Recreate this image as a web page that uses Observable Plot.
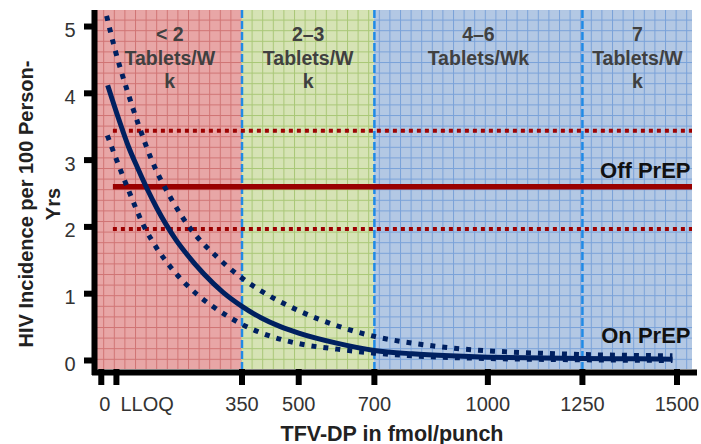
<!DOCTYPE html>
<html><head><meta charset="utf-8">
<script src="https://cdn.jsdelivr.net/npm/d3@7"></script>
<script src="https://cdn.jsdelivr.net/npm/@observablehq/plot@0.6"></script>
<style>body{margin:0;background:#fff} #chart svg{display:block}</style>
</head><body>
<svg width="0" height="0" style="position:absolute"><defs id="pats"></defs></svg>
<div id="chart"></div>
<script>
// ---- data ----
const xDomain = [-32, 1541];
const yDomain = [-0.135, 5.24];
const zoneIds = ["zr", "zg", "zb"];
const zoneStarts = [-32, 350, 700];
const zoneEnds = [350, 700, 1541];
const zoneFill = ["#e8a6a6", "#d6e3b5", "#b3c8e4"];
const zoneGrid = ["#d07474", "#a9c777", "#7aa2d9"];
const dividers = [350, 700, 1250];
const labelStarts = [-32, 350, 700, 1250];
const labelEnds = [350, 700, 1250, 1541];
const labelTexts = ["< 2\nTablets/W\nk", "2–3\nTablets/W\nk", "4–6\nTablets/Wk", "7\nTablets/W\nk"];
const xTicks = [-22, 18, 350, 500, 700, 1000, 1250, 1500];
const xTickLabels = ["0", "LLOQ", "350", "500", "700", "1000", "1250", "1500"];
const yTicks = [0, 1, 2, 3, 4, 5];
const offPrepEst = 2.6, offPrepLo = 1.97, offPrepHi = 3.44, offPrepFrom = 10;
const doseEst = [-5, 25, 50, 75, 100, 125, 150, 175, 200, 250, 300, 350, 400, 450, 500, 600, 700, 800, 900, 1000, 1100, 1250, 1400, 1488];
const incEst  = [4.12, 3.60, 3.20, 2.87, 2.56, 2.28, 2.03, 1.81, 1.62, 1.29, 1.02, 0.81, 0.64, 0.51, 0.41, 0.26, 0.15, 0.10, 0.07, 0.05, 0.04, 0.03, 0.025, 0.02];
const doseHi = [-8, 15, 46, 77, 112, 165, 213, 284, 346, 425, 502, 601, 700, 813, 936, 1015, 1245, 1488];
const incHi  = [5.16, 4.64, 4.05, 3.52, 2.99, 2.40, 1.98, 1.55, 1.25, 0.96, 0.74, 0.52, 0.36, 0.25, 0.17, 0.14, 0.09, 0.07];
const doseLo = [-6, 20, 50, 90, 125, 161, 231, 275, 328, 350, 407, 502, 601, 700, 800, 900, 1000, 1250, 1488];
const incLo  = [3.37, 2.98, 2.55, 2.02, 1.68, 1.40, 0.99, 0.80, 0.61, 0.54, 0.40, 0.25, 0.17, 0.11, 0.07, 0.045, 0.03, 0.01, 0.0];

// ---- graph-paper patterns ----
const G = 10.6;
const defs = document.getElementById("pats");
zoneIds.forEach((id, i) => {
  defs.insertAdjacentHTML("beforeend",
    `<pattern id="${id}" patternUnits="userSpaceOnUse" x="241" y="9" width="${G}" height="${G}">` +
    `<rect width="${G}" height="${G}" fill="${zoneFill[i]}"/>` +
    `<rect width="1" height="${G}" fill="${zoneGrid[i]}"/>` +
    `<rect width="${G}" height="1" fill="${zoneGrid[i]}"/></pattern>`);
});

const zones = zoneIds.map((id, i) => ({x1: zoneStarts[i], x2: zoneEnds[i], y1: yDomain[0], y2: yDomain[1], fill: `url(#${id})`}));
const labels = labelTexts.map((t, i) => ({x: (labelStarts[i] + labelEnds[i]) / 2, t}));
const est = doseEst.map((d, i) => ({d, v: incEst[i]}));
const hi = doseHi.map((d, i) => ({d, v: incHi[i]}));
const lo = doseLo.map((d, i) => ({d, v: incLo[i]}));
const navy = "#002060";
const font = "Liberation Sans, Arial, sans-serif";
const fmtX = d => xTickLabels[xTicks.indexOf(d)];

const chart = Plot.plot({
  width: 701, height: 444,
  marginLeft: 97, marginRight: 9, marginTop: 10, marginBottom: 75,
  style: {fontFamily: font, background: "#fff"},
  x: {domain: xDomain, label: null},
  y: {domain: yDomain, label: null},
  color: {type: "identity"},
  marks: [
    Plot.rect(zones, {x1: "x1", x2: "x2", y1: "y1", y2: "y2", fill: "fill"}),
    Plot.ruleX(dividers, {stroke: "#1f8ae6", strokeWidth: 2.5, strokeDasharray: "8,3"}),
    Plot.ruleY([offPrepLo, offPrepHi], {x1: offPrepFrom, x2: xDomain[1], stroke: "#9c0000", strokeWidth: 4, strokeDasharray: "4,4"}),
    Plot.ruleY([offPrepEst], {x1: offPrepFrom, x2: xDomain[1], stroke: "#990000", strokeWidth: 5.5}),
    Plot.line(hi, {x: "d", y: "v", stroke: navy, strokeWidth: 5, strokeDasharray: "5,7", strokeLinecap: "butt", curve: "monotone-x"}),
    Plot.line(lo, {x: "d", y: "v", stroke: navy, strokeWidth: 5, strokeDasharray: "5,7", strokeLinecap: "butt", curve: "monotone-x"}),
    Plot.line(est, {x: "d", y: "v", stroke: navy, strokeWidth: 5, strokeLinecap: "butt", curve: "monotone-x"}),
    // axis lines
    Plot.ruleY([yDomain[0]], {stroke: "#000", strokeWidth: 6, dy: 3, insetLeft: -5, insetRight: -5}),
    Plot.ruleX([xDomain[0]], {stroke: "#000", strokeWidth: 6, dx: -3, insetBottom: -6}),
    // ticks
    Plot.axisY(yTicks, {tickSize: 13, strokeWidth: 6, stroke: "#000", tickFormat: () => "", label: null}),
    Plot.axisY(yTicks, {tickSize: 0, tickPadding: 22, dy: 4, fontSize: 20, fill: "#333", label: null, tickFormat: d => String(d)}),
    Plot.axisX(xTicks, {tickSize: 16, strokeWidth: 6, stroke: "#000", tickFormat: () => "", label: null}),
    Plot.axisX(xTicks.slice(2), {tickSize: 0, tickPadding: 27, fontSize: 20, fill: "#333", label: null, tickFormat: fmtX}),
    Plot.axisX(xTicks.slice(0, 1), {tickSize: 0, tickPadding: 27, fontSize: 20, fill: "#333", label: null, tickFormat: fmtX,
      textAnchor: "start", dx: -2}),
    Plot.axisX(xTicks.slice(1, 2), {tickSize: 0, tickPadding: 27, fontSize: 20, fill: "#333", label: null, tickFormat: fmtX,
      textAnchor: "start", dx: 4}),
    // region labels
    Plot.text(labels, {x: "x", text: "t", frameAnchor: "top", lineAnchor: "top", dy: 14, fontSize: 19.5,
      fontWeight: "bold", fill: "#404040", lineHeight: 1.2}),
    Plot.text(["Off PrEP"], {x: xDomain[1], y: offPrepEst, text: d => d, textAnchor: "end", lineAnchor: "bottom",
      dx: -2, dy: -9, fontSize: 22, fontWeight: "bold", fill: "#111"}),
    Plot.text(["On PrEP"], {x: xDomain[1], y: 0, text: d => d, textAnchor: "end", lineAnchor: "bottom",
      dx: -2, dy: -17, fontSize: 22, fontWeight: "bold", fill: "#111"}),
    // axis titles
    Plot.text(["TFV-DP in fmol/punch"], {frameAnchor: "bottom", lineAnchor: "bottom", text: d => d, dy: 71, dx: -3,
      fontSize: 21.5, fontWeight: "bold", fill: "#222"}),
    Plot.text(["HIV Incidence per 100 Person-\nYrs"], {frameAnchor: "left", text: d => d, rotate: -90, lineAnchor: "top",
      textAnchor: "middle", dx: -84, dy: 14, fontSize: 20, fontWeight: "bold", fill: "#222", lineHeight: 1.35})
  ]
});
document.getElementById("chart").append(chart);
</script>
</body></html>
